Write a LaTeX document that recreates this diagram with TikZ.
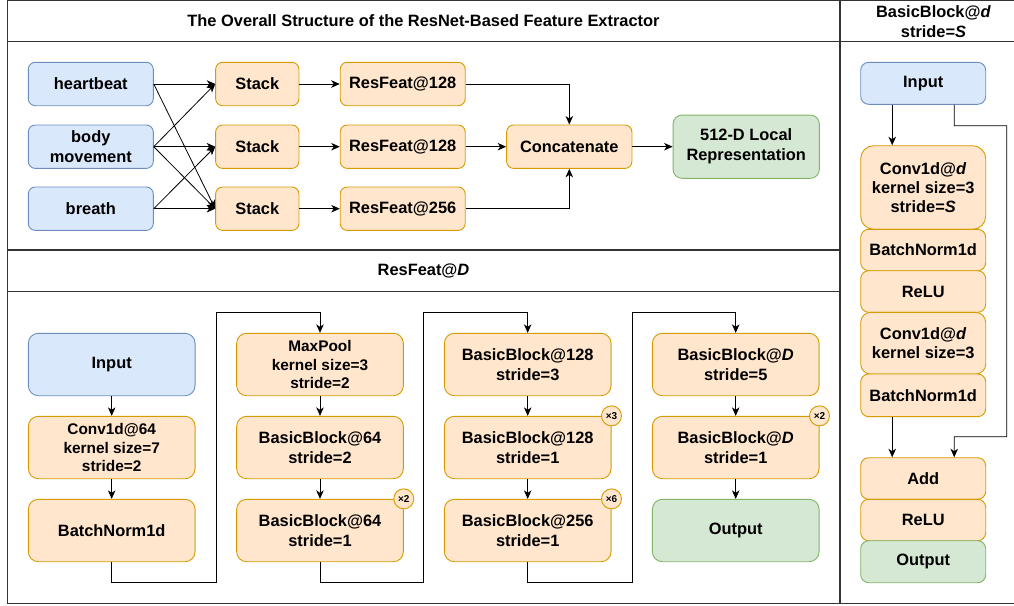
\documentclass[tikz,border=0pt]{standalone}
\usepackage{fontspec}
\setmainfont{Liberation Sans}
\usetikzlibrary{arrows.meta,calc}
\definecolor{bfill}{HTML}{DAE8FC}
\definecolor{bline}{HTML}{6C8EBF}
\definecolor{ofill}{HTML}{FFE6CC}
\definecolor{oline}{HTML}{D79B00}
\definecolor{gfill}{HTML}{D5E8D4}
\definecolor{gline}{HTML}{82B366}
\definecolor{framec}{HTML}{333333}
\tikzset{
 base/.style={draw, line width=0.9pt, rounded corners=7pt, inner sep=0pt, align=center, font=\bfseries\fontsize{16.4}{20}\selectfont},
 bbox/.style={base, fill=bfill, draw=bline},
 obox/.style={base, fill=ofill, draw=oline},
 gbox/.style={base, fill=gfill, draw=gline},
 small/.style={font=\bfseries\fontsize{15.4}{18.4}\selectfont},
 arr/.style={draw=black, line width=0.8pt, -{Stealth[length=8.5pt,width=7.5pt,inset=2.5pt]}},
 badge/.style={circle, draw=oline, fill=ofill, line width=0.9pt, minimum size=20pt, inner sep=0pt, font=\bfseries\fontsize{10}{10}\selectfont},
 hdr/.style={font=\bfseries\fontsize{16.4}{20}\selectfont, align=center},
 topbox/.style={minimum width=125pt, minimum height=43.4pt},
 midbox/.style={minimum width=83.3pt, minimum height=43.4pt},
 lowbox/.style={minimum width=166.7pt, minimum height=62.4pt, rounded corners=10pt},
 rbox/.style={minimum width=125pt, rounded corners=8pt},
 frameline/.style={draw=framec, line width=1.1pt},
}
\begin{document}
\begin{tikzpicture}[x=1pt,y=-1pt]
\useasboundingbox (0,0) rectangle (1014,605);
% frame
\draw[frameline] (7.5,0.5) rectangle (1027,603.3);
\draw[frameline] (7.5,41.7) -- (1027,41.7);
\draw[frameline] (840,0.5) -- (840,603.3);
\draw[frameline] (7.5,250) -- (840,250);
\draw[frameline] (7.5,291.7) -- (840,291.7);
% headers
\node[hdr] (t1) at (423.5,21) {The Overall Structure of the ResNet-Based Feature Extractor};
\node[hdr] (t2) at (423.5,271) {ResFeat@\textit{D}};
\node[hdr] (t3) at (933.5,21.5) {BasicBlock@\textit{d}\\stride=\textit{S}};
% top section
\node[bbox, topbox] (hb) at (90.8,84) {heartbeat};
\node[bbox, topbox] (bm) at (90.8,146.7) {body\\movement};
\node[bbox, topbox] (br) at (90.8,208.7) {breath};
\node[obox, midbox] (s1) at (257.3,84) {Stack};
\node[obox, midbox] (s2) at (257.3,146.7) {Stack};
\node[obox, midbox] (s3) at (257.3,208.7) {Stack};
\node[obox, topbox] (r1) at (402.7,84) {ResFeat@128};
\node[obox, topbox] (r2) at (402.7,146.7) {ResFeat@128};
\node[obox, topbox] (r3) at (402.7,208.7) {ResFeat@256};
\node[obox, topbox, minimum width=125.3pt] (cat) at (569.3,146.7) {Concatenate};
\node[gbox, minimum width=146.3pt, minimum height=63.3pt, rounded corners=9pt] (rep) at (746.2,146.7) {512-D Local\\Representation};
\draw[arr] (hb.east) -- (s1.west);
\draw[arr] (hb.east) -- (s3.west);
\draw[arr] (bm.east) -- (s1.west);
\draw[arr] (bm.east) -- (s2.west);
\draw[arr] (bm.east) -- (s3.west);
\draw[arr] (br.east) -- (s2.west);
\draw[arr] (br.east) -- (s3.west);
\draw[arr] (s1) -- (r1);
\draw[arr] (s2) -- (r2);
\draw[arr] (s3) -- (r3);
\draw[arr] (r1.east) -| (cat.north);
\draw[arr] (r2) -- (cat);
\draw[arr] (r3.east) -| (cat.south);
\draw[arr] (cat) -- (rep);
% ResFeat section
\node[bbox, lowbox] (in) at (111.7,364.5) {Input};
\node[obox, lowbox, small] (cv) at (111.7,447.5) {Conv1d@64\\kernel size=7\\stride=2};
\node[obox, lowbox] (bn) at (111.7,530.5) {BatchNorm1d};
\node[obox, lowbox, small] (mp) at (320,364.5) {MaxPool\\kernel size=3\\stride=2};
\node[obox, lowbox] (ba) at (320,447.5) {BasicBlock@64\\stride=2};
\node[obox, lowbox] (bb) at (320,530.5) {BasicBlock@64\\stride=1};
\node[obox, lowbox] (bc) at (527.7,364.5) {BasicBlock@128\\stride=3};
\node[obox, lowbox] (bd) at (527.7,447.5) {BasicBlock@128\\stride=1};
\node[obox, lowbox] (be) at (527.7,530.5) {BasicBlock@256\\stride=1};
\node[obox, lowbox] (bf) at (735.7,364.5) {BasicBlock@\textit{D}\\stride=5};
\node[obox, lowbox] (bg) at (735.7,447.5) {BasicBlock@\textit{D}\\stride=1};
\node[gbox, lowbox] (out) at (735.7,530.5) {Output};
\node[badge] (x1) at (bb.north east) {×2};
\node[badge] (x2) at (bd.north east) {×3};
\node[badge] (x3) at (be.north east) {×6};
\node[badge] (x4) at (bg.north east) {×2};
\draw[arr] (in) -- (cv);
\draw[arr] (cv) -- (bn);
\draw[arr] (mp) -- (ba);
\draw[arr] (ba) -- (bb);
\draw[arr] (bc) -- (bd);
\draw[arr] (bd) -- (be);
\draw[arr] (bf) -- (bg);
\draw[arr] (bg) -- (out);
\coordinate (j1a) at (216,582.7);
\coordinate (j1b) at (216,312.3);
\coordinate (j2a) at (423.3,582.7);
\coordinate (j2b) at (423.3,312.3);
\coordinate (j3a) at (632,582.7);
\coordinate (j3b) at (632,312.3);
\draw[arr] (bn.south) |- (j1a) -- (j1b) -| (mp.north);
\draw[arr] (bb.south) |- (j2a) -- (j2b) -| (bc.north);
\draw[arr] (be.south) |- (j3a) -- (j3b) -| (bf.north);
% BasicBlock section
\node[bbox, rbox, minimum height=42pt] (rin) at (923.2,83.3) {Input};
\node[obox, rbox, minimum height=83.6pt, rounded corners=13pt, font=\bfseries\fontsize{16.4}{19.2}\selectfont] (rc1) at (923.2,187.5) {Conv1d@\textit{d}\\kernel size=3\\stride=\textit{S}};
\node[obox, rbox, minimum height=41.4pt] (rbn1) at (923.2,250) {BatchNorm1d};
\node[obox, rbox, minimum height=41.6pt] (rre1) at (923.2,291.5) {ReLU};
\node[obox, rbox, minimum height=61.7pt, rounded corners=10pt, font=\bfseries\fontsize{16.4}{19.2}\selectfont] (rc2) at (923.2,343.2) {Conv1d@\textit{d}\\kernel size=3};
\node[obox, rbox, minimum height=42.7pt] (rbn2) at (923.2,395.3) {BatchNorm1d};
\node[obox, rbox, minimum height=41.6pt] (radd) at (923.2,478.5) {Add};
\node[obox, rbox, minimum height=41.4pt] (rre2) at (923.2,520) {ReLU};
\node[gbox, rbox, minimum height=42pt] (rout) at (923.2,561.7) {Output};
\draw[arr] ($(rin.south)+(-31,0)$) -- ($(rc1.north)+(-31,0)$);
\draw[arr] ($(rbn2.south)+(-31,0)$) -- ($(radd.north)+(-31,0)$);
\coordinate (k1) at (954.3,125.7);
\coordinate (k2) at (1006.7,125.7);
\coordinate (k3) at (1006.7,436.7);
\coordinate (k4) at (954.3,436.7);
\draw[arr] ($(rin.south)+(31,0)$) -- (k1) -- (k2) -- (k3) -- (k4) -- ($(radd.north)+(31,0)$);
\end{tikzpicture}
\end{document}
